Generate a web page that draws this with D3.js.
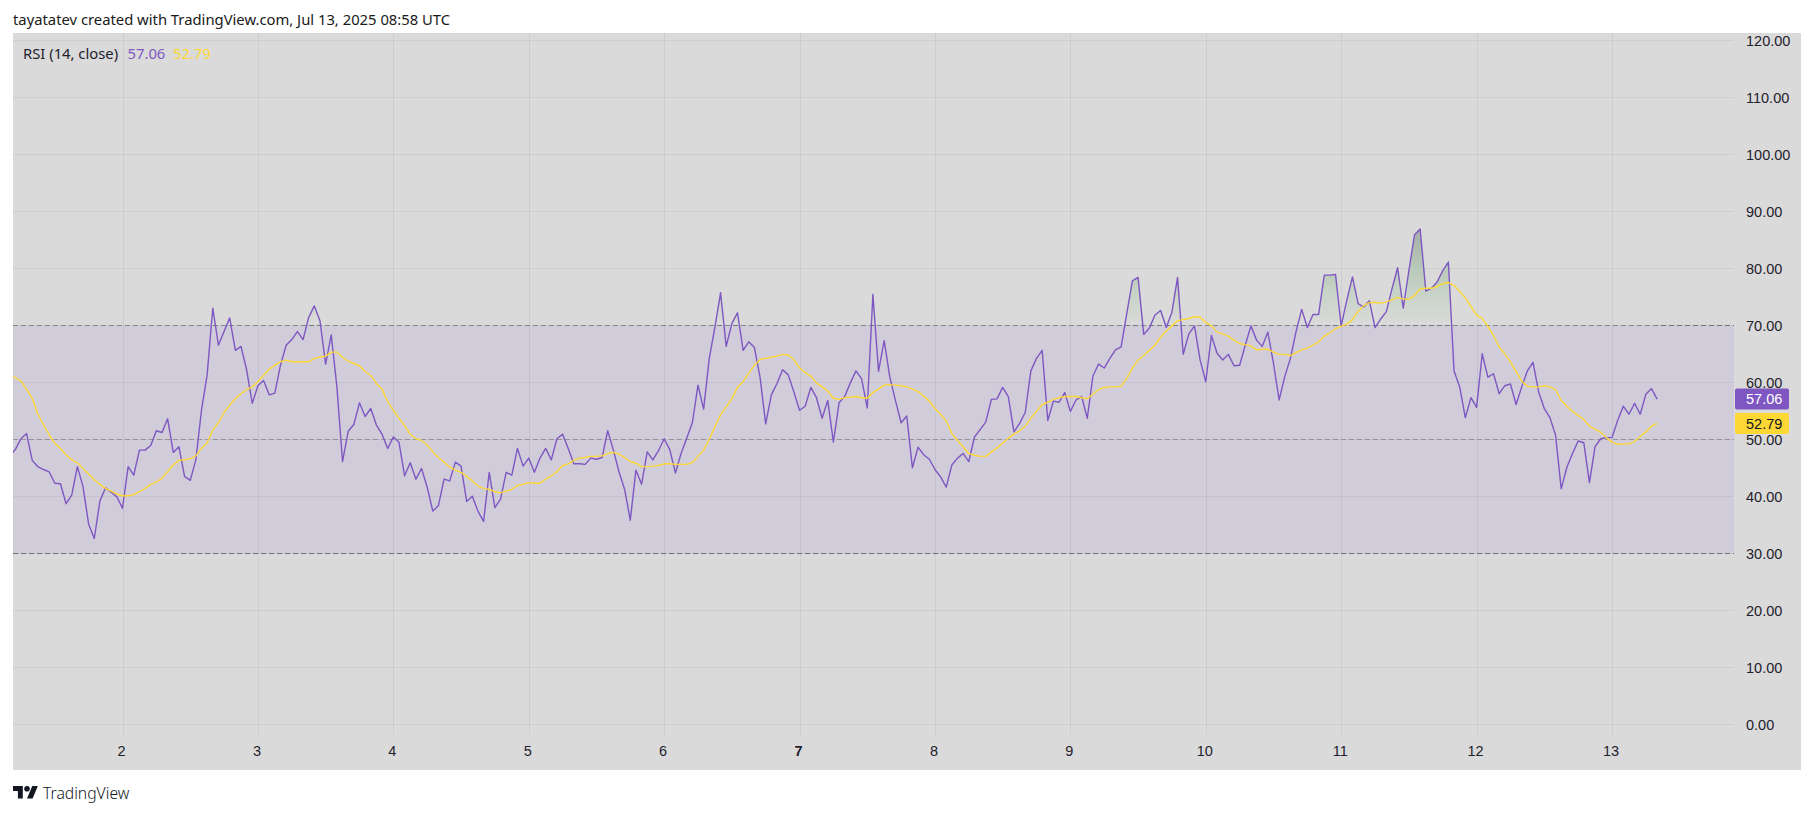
<!DOCTYPE html>
<html>
<head>
<meta charset="utf-8">
<script src="https://cdn.jsdelivr.net/npm/d3@7"></script>
<style>
html,body{margin:0;padding:0;background:#fff;overflow:hidden}
svg{display:block}
</style>
</head>
<body>
<svg id="chart" width="1814" height="814"></svg>
<script>
// First hourly bar shown, counted in hours from the start of day 1
const startHour = 4;
const rsi = [
47,48.2,50.1,51,46.3,45.2,44.7,44.3,42.3,42.2,38.7,40.2,45.2,41.7,35.1,32.6,39.2,41.5,40.7,39.9,
37.9,45.2,43.7,48.1,48.1,48.9,51.5,51.2,53.6,47.7,48.7,43.5,42.8,46.4,55.1,61.3,73,66.5,68.9,71.3,65.6,66.3,62.2,56.3,
59.4,60.3,57.8,58.1,63,66.5,67.5,68.9,67.5,71.4,73.4,70.8,63.2,68.3,59.2,46.1,51.4,52.6,56.4,54,55.4,52.5,50.9,48.4,
50.4,49.5,43.6,45.9,43,44.9,41.6,37.4,38.4,43,42.7,46,45.3,39.1,40,37.4,35.6,44.2,38,39.5,44.2,43.7,48.4,45.3,
46.7,44.2,46.7,48.4,46.4,50.1,50.9,48.4,45.7,45.7,45.6,46.7,46.5,46.8,51.5,48.1,44.3,41.2,35.8,44.6,42.1,47.8,46.4,48,
50.1,48.2,44.1,47.5,50.2,52.9,59.5,55.3,64.2,69.7,75.7,66.3,70.3,72.2,65.6,67.1,66.1,60.9,52.7,57.8,59.8,62.2,61.3,58.3,
55.1,55.8,59.1,57.3,53.7,56.8,49.5,56.4,57.5,59.9,62,60.6,55.5,75.4,61.9,67.3,60.9,56.8,52.9,54.1,45,48.6,47.3,46.5,
44.7,43.4,41.6,45.5,46.7,47.5,46.1,50.4,51.7,53,57,57.1,59.1,57.5,51.3,52.8,54.7,62,64.2,65.6,53.3,56.7,56.5,58.2,
54.9,56.9,57.5,53.7,61.1,63.2,62.5,64.2,65.7,66.2,72.1,77.8,78.4,68.4,69.5,71.8,72.6,69.6,72.3,78.4,64.9,68.5,69.9,63.9,
60.1,68.2,65.1,63.9,64.9,62.9,63,66.5,69.9,67.4,66.3,68.8,63.3,56.9,61,64.2,68.9,72.8,69.6,71.9,71.9,78.8,78.8,78.9,
69.9,74.4,78.5,73.8,73.2,74.3,69.6,71.1,72.4,76.4,80.1,73,79.6,85.9,86.9,76,76.5,77.6,79.6,81.1,62,59.2,53.8,57.3,
55.6,65,60.9,61.5,58,59.4,59.7,56.1,59.2,62,63.5,58.3,55.4,53.8,50.7,41.3,45.1,47.5,49.7,49.4,42.4,48.7,50.1,50.3,
50.3,53.3,55.8,54.4,56.3,54.4,57.9,58.9,57.06
];
const rsiMa = [
61.2,60.8,60.2,58.8,57.2,54.4,52.6,50.8,49.3,48.4,47.3,46.4,45.9,44.9,43.9,42.9,42.1,41.4,40.9,40.4,
40.1,40.1,40.3,40.8,41.4,42.1,42.5,43.2,44.3,45.5,46.3,46.4,46.6,47.1,48.4,49.4,51.6,52.9,54.7,56,57.1,58,58.7,59.2,
60.1,61.2,62.3,63,63.6,63.9,63.6,63.6,63.6,63.6,64.2,64.4,64.6,65.3,65.3,64.4,63.7,63.3,62.9,61.9,61.2,59.8,58.8,56.6,
55.1,53.7,52.4,50.9,50.1,49.8,49,47.8,46.8,46,45.1,44.6,44.2,43.5,42.7,41.8,41.4,41.2,40.8,40.6,40.9,41.2,41.9,42.1,
42.4,42.3,42.3,43,43.6,44.3,45.4,45.7,46.3,46.7,46.8,47,47,47.1,47.5,47.7,47.4,46.8,46.1,45.8,45.2,45.2,45.3,45.4,
45.7,45.7,45.6,45.6,45.6,45.9,47,48.1,50,52.2,54.3,55.7,57.1,59.1,60.1,61.6,63,64,64.2,64.4,64.6,64.9,64.8,64,
62.5,61.7,61.1,59.9,59.2,58.5,57.2,57,57.3,57.4,57.5,57.3,57.2,58.2,58.8,59.5,59.6,59.5,59.4,59.2,58.8,58.4,57.6,56.7,
55.4,54.4,53.2,51,49.8,48.7,47.5,47.2,47,47,47.8,48.5,49.3,50.2,50.9,51.5,52.3,53.7,54.9,56.1,56.5,57,57.3,57.5,
57.5,57.5,57.3,57.1,57.9,58.7,59.1,59.2,59.2,59.3,60.7,62.5,63.9,64.7,65.6,66.5,67.9,69,69.9,70.8,71,71.2,71.5,71.4,
70.5,69.9,68.8,68.5,68.1,67.4,66.8,66.6,66.4,65.7,65.8,65.8,65.3,64.9,64.9,64.7,65.2,65.7,66,66.5,67.1,68.1,68.7,69.4,
69.8,70.2,71,72.5,73.4,74,74,73.9,74.1,74.5,74.9,74.6,74.6,75.2,76.4,76.5,76.5,76.8,77.3,77.5,77,76,74.8,73.3,
71.8,71.2,69.8,68.2,66.2,65,63.6,61.9,60.2,59.3,59.2,59.2,59.4,59.2,58.7,56.8,55.8,54.9,54.2,53.5,52.3,51.8,51.2,50.3,
49.5,49.1,49.2,49.2,49.6,50.5,51.3,52.3,52.79
];
const priceTicks = [0,10,20,30,40,50,60,70,80,90,100,110,120];
const dayTicks = [2,3,4,5,6,7,8,9,10,11,12,13];
const boldDay = 7;
const bandTop = 70, bandMid = 50, bandBottom = 30;
const headerText = "tayatatev created with TradingView.com, Jul 13, 2025 08:58 UTC";
const legendName = "RSI (14, close)";
const lastRsi = "57.06", lastMa = "52.79";
const brandText = "TradingView";

const PURPLE = "#7E57C2", YELLOW = "#FDD835", BG = "#dadada", INK = "#1e222d";
const UI = "Noto Sans, Tahoma, sans-serif", NUM = "Liberation Sans, Arial, sans-serif";
const panel = {l:13, t:33, r:1801, b:770}, plot = {l:13, t:33, r:1734, b:735};

const svg = d3.select("#chart");
const x = d3.scaleLinear().domain([24,288]).range([122.5,1612]);
const y = d3.scaleLinear().domain([0,120]).range([724.3,40.3]);
const hourOf = i => startHour + i;
const dayHour = d => (d-1)*24;

const defs = svg.append("defs");
defs.append("clipPath").attr("id","plotClip").append("rect")
  .attr("x",plot.l).attr("y",plot.t).attr("width",plot.r-plot.l).attr("height",plot.b-plot.t);
defs.append("clipPath").attr("id","aboveClip").append("rect")
  .attr("x",plot.l).attr("y",plot.t).attr("width",plot.r-plot.l).attr("height",y(bandTop)-plot.t);
const grad = defs.append("linearGradient").attr("id","obGrad").attr("gradientUnits","userSpaceOnUse")
  .attr("x1",0).attr("x2",0).attr("y1",y(87)).attr("y2",y(bandTop));
[[0,"#a6aca6",1],[0.35,"#b5c6b6",1],[0.65,"#c6d3c6",1],[1,"#dadada",1]].forEach(s=>
  grad.append("stop").attr("offset",s[0]).attr("stop-color",s[1]).attr("stop-opacity",s[2]));

// panel
svg.append("rect").attr("x",panel.l).attr("y",panel.t).attr("width",panel.r-panel.l).attr("height",panel.b-panel.t).attr("fill",BG);
// RSI band
svg.append("rect").attr("x",plot.l).attr("width",plot.r-plot.l)
  .attr("y",y(bandTop)).attr("height",y(bandBottom)-y(bandTop)).attr("fill","#d0ccd9");

// grid
const grid = svg.append("g").attr("shape-rendering","crispEdges").attr("stroke","#000").attr("stroke-opacity",0.055);
grid.selectAll("line.h").data(priceTicks).join("line").attr("class","h")
  .attr("x1",plot.l).attr("x2",plot.r).attr("y1",d=>Math.round(y(d))).attr("y2",d=>Math.round(y(d)));
grid.selectAll("line.v").data(dayTicks).join("line").attr("class","v")
  .attr("y1",plot.t).attr("y2",plot.b).attr("x1",d=>Math.round(x(dayHour(d)))).attr("x2",d=>Math.round(x(dayHour(d))));

// band dashes
svg.append("g").attr("shape-rendering","crispEdges").selectAll("line")
  .data([[bandTop,"#747276"],[bandMid,"#959399"],[bandBottom,"#747276"]]).join("line")
  .attr("x1",plot.l).attr("x2",plot.r).attr("y1",d=>Math.round(y(d[0]))).attr("y2",d=>Math.round(y(d[0])))
  .attr("stroke",d=>d[1]).attr("stroke-dasharray","5 3");

// series
const plotG = svg.append("g").attr("clip-path","url(#plotClip)");
plotG.append("g").attr("clip-path","url(#aboveClip)").append("path").datum(rsi)
  .attr("fill","url(#obGrad)")
  .attr("d",d3.area().x((d,i)=>x(hourOf(i))).y0(y(bandTop)).y1(d=>y(d)));
const lineGen = d3.line().x((d,i)=>x(hourOf(i))).y(d=>y(d));
plotG.append("path").datum(rsi).attr("fill","none").attr("stroke",PURPLE).attr("stroke-width",1.4).attr("stroke-linejoin","round").attr("d",lineGen);
plotG.append("path").datum(rsiMa).attr("fill","none").attr("stroke",YELLOW).attr("stroke-width",1.4).attr("stroke-linejoin","round").attr("d",lineGen);

// axes
const yAxis = svg.append("g").attr("transform",`translate(${plot.r},0)`)
  .call(d3.axisRight(y).tickValues(priceTicks).tickSize(0).tickPadding(12).tickFormat(d=>d.toFixed(2)));
yAxis.select(".domain").remove();
yAxis.selectAll("text").attr("font-family",NUM).attr("font-size",14.5).attr("fill",INK).attr("dy","0.34em");

const xAxis = svg.append("g").attr("transform",`translate(0,${plot.b})`)
  .call(d3.axisBottom(x).tickValues(dayTicks.map(dayHour)).tickSize(0).tickPadding(11).tickFormat(h=>String(h/24+1)));
xAxis.select(".domain").remove();
xAxis.selectAll("text").attr("font-family",NUM).attr("font-size",14.5).attr("fill",INK).attr("dx",-1.5)
  .attr("font-weight",h=>(h/24+1)===boldDay?"bold":"normal");

// last value badges
[[rsi[rsi.length-1],lastRsi,PURPLE,"#fff"],[rsiMa[rsiMa.length-1],lastMa,YELLOW,"#131722"]].forEach(b=>{
  svg.append("rect").attr("x",plot.r+1).attr("y",y(b[0])-10.5).attr("width",54).attr("height",21).attr("rx",2).attr("fill",b[2]);
  svg.append("text").attr("x",plot.r+12).attr("y",y(b[0])).attr("dy","0.36em")
    .attr("font-family",NUM).attr("font-size",14.5).attr("fill",b[3]).text(b[1]);
});

// legend
const legend = svg.append("g").attr("font-family",UI).attr("font-size",14.8);
legend.append("text").attr("x",23).attr("y",54).attr("dy","0.36em").attr("fill",INK).text(legendName);
legend.append("text").attr("x",127.5).attr("y",54).attr("dy","0.36em").attr("fill",PURPLE).text(lastRsi);
legend.append("text").attr("x",173).attr("y",54).attr("dy","0.36em").attr("fill",YELLOW).text(lastMa);

// header
svg.append("text").attr("x",13).attr("y",20).attr("dy","0.36em").attr("font-family",UI).attr("font-size",14.8)
  .attr("fill","#1a1a1a").text(headerText);

// brand
const logo = svg.append("g").attr("transform","translate(13,783.2) scale(0.7)").attr("fill","#131722");
logo.append("path").attr("d","M14 22H7V11H0V4h14v18ZM28 22h-8l7.5-18h8L28 22Z");
logo.append("circle").attr("cx",20).attr("cy",8).attr("r",4);
svg.append("text").attr("x",43).attr("y",793).attr("dy","0.36em").attr("font-family",UI).attr("font-size",15.7)
  .attr("font-weight",300).attr("fill","#131722").text(brandText);
</script>
</body>
</html>
